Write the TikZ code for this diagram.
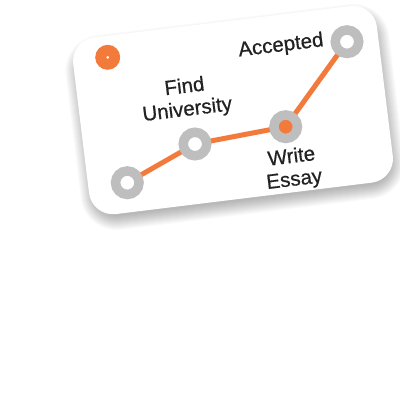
\documentclass[tikz,border=0pt]{standalone}
\usepackage{tikz}
\usepackage{xcolor}
\usepackage{fontspec}
\setmainfont{Liberation Sans}
\newfontfamily\labelfont[FakeBold=0.6]{Liberation Sans}
\usetikzlibrary{positioning}
\definecolor{pathorange}{RGB}{242, 122, 58}
\definecolor{ringgray}{RGB}{190, 190, 190}
\definecolor{labelink}{RGB}{34, 34, 34}

\begin{document}
\begin{tikzpicture}[
  x=1pt, y=-1pt,
  card/.style={
    rectangle, rounded corners=24pt,
    fill=white, rotate=7,
    minimum width=306pt, minimum height=178pt
  },
  shadowlayer/.style={
    rectangle, rounded corners=22pt+#1pt,
    fill=black, opacity=0.018, rotate=7,
    minimum width=298pt+2*#1pt, minimum height=168pt+2*#1pt
  },
  ring/.style={
    circle, draw=ringgray, fill=#1, line width=9.5pt,
    minimum size=23.5pt, inner sep=0pt
  },
  ring/.default=white,
  steplabel/.style={
    font=\labelfont\fontsize{20.5}{23}\selectfont, text=labelink,
    rotate=7, align=center, inner sep=0pt
  }
]
\useasboundingbox[fill=white] (0,0) rectangle (400,400);

% soft shadow
\foreach \s in {0,...,14}
  \node[shadowlayer=\s] (sh\s) at (235,117) {};

\node[card] (card) at (233,110) {};

% start marker
\node[circle, fill=pathorange, minimum size=25pt, inner sep=0pt]
  (start) at (107.7,57.3) {};
\node[circle, fill=white, minimum size=3pt, inner sep=0pt] (startc) at (start) {};

% milestones
\coordinate (p1) at (127.3,182.7);
\coordinate (p2) at (195,144);
\coordinate (p3) at (285.7,126.7);
\coordinate (p4) at (347,41.7);

\draw[pathorange, line width=5pt, line join=round] (p1) -- (p2) -- (p3) -- (p4);

\node[ring] (m1) at (p1) {};
\node[ring] (m2) at (p2) {};
\node[ring=pathorange] (m3) at (p3) {};
\node[ring] (m4) at (p4) {};

% labels
\node[steplabel] (l2) at (186,99) {Find\\University};
\node[steplabel] (l3) at (293,169) {Write\\Essay};
\node[steplabel] (l4) at (281,46) {Accepted};

\end{tikzpicture}
\end{document}
